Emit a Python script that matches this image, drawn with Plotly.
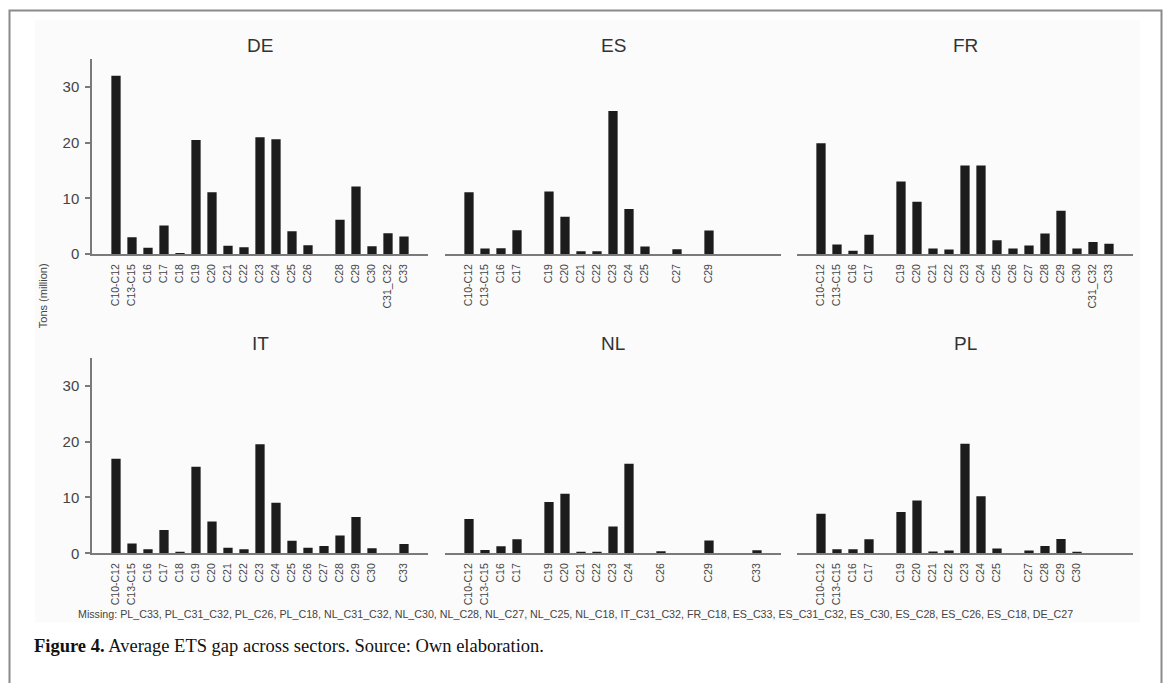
import plotly.graph_objects as go

categories = ["C10-C12", "C13-C15", "C16", "C17", "C18", "C19", "C20", "C21", "C22",
              "C23", "C24", "C25", "C26", "C27", "C28", "C29", "C30", "C31_C32", "C33"]
countries = ["DE", "ES", "FR", "IT", "NL", "PL"]
N = None
de = [32.0, 3.05, 1.14, 5.15, 0.2, 20.5, 11.1, 1.5, 1.26, 21.0, 20.6, 4.13, 1.6, N, 6.17, 12.16, 1.44, 3.77, 3.17]
es = [11.1, 1.0, 1.08, 4.3, N, 11.26, 6.7, 0.54, 0.54, 25.7, 8.1, 1.38, N, 0.9, N, 4.25, N, N, N]
fr = [19.9, 1.74, 0.6, 3.5, N, 13.05, 9.4, 1.0, 0.84, 15.9, 15.9, 2.5, 1.0, 1.55, 3.7, 7.8, 1.0, 2.2, 1.85]
it = [16.9, 1.73, 0.7, 4.17, 0.24, 15.5, 5.7, 1.0, 0.7, 19.5, 9.05, 2.26, 1.0, 1.3, 3.2, 6.5, 0.9, N, 1.67]
nl = [6.13, 0.6, 1.25, 2.5, N, 9.17, 10.65, 0.24, 0.24, 4.8, 16.0, N, 0.36, N, N, 2.3, N, N, 0.54]
pl = [7.08, 0.7, 0.7, 2.5, N, 7.4, 9.46, 0.3, 0.48, 19.6, 10.2, 0.83, N, 0.48, 1.3, 2.56, 0.24, N, N]
y_ticks = [0, 10, 20, 30]

series = [de, es, fr, it, nl, pl]

# page body adds an 8px margin; the captured picture is slightly squeezed vertically (K)
OFF = 8
K = 0.988
W, H = 1171 - 2 * OFF, 683
def fx(px):
    return (px - OFF) / W
def fy(py):
    return 1 - (py / K - OFF) / H

col_px = [(92, 428), (445, 781), (797, 1133)]
row_px = [(59, 254), (357.5, 553)]

SANS = "Liberation Sans, Arial, sans-serif"
fig = go.Figure()
layout = dict(
    width=W, height=H, margin=dict(l=0, r=0, t=0, b=0),
    paper_bgcolor="white", plot_bgcolor="rgba(0,0,0,0)",
    showlegend=False,
    font=dict(family=SANS, color="#444"),
)
annotations = []
for i, (country, vals) in enumerate(zip(countries, series)):
    r, c = divmod(i, 3)
    idx = i + 1
    xa = "x" if idx == 1 else f"x{idx}"
    ya = "y" if idx == 1 else f"y{idx}"
    xs = [cat for cat, v in zip(categories, vals) if v is not None]
    ys = [v for v in vals if v is not None]
    fig.add_trace(go.Bar(x=xs, y=ys, xaxis=xa, yaxis=ya,
                         marker=dict(color="#1c1c1c", line=dict(width=0)), width=0.58))
    x0, x1 = col_px[c]
    y0, y1 = row_px[r]
    layout["xaxis" if idx == 1 else f"xaxis{idx}"] = dict(
        domain=[fx(x0), fx(x1)], anchor=ya, type="category",
        categoryorder="array", categoryarray=categories,
        range=[-1.5, len(categories) + 0.5],
        tickmode="array", tickvals=xs, ticktext=xs, tickangle=-90,
        tickfont=dict(size=10.5, color="#444", family=SANS),
        ticklabelstandoff=4,
        showline=True, linecolor="#7a7a7a", linewidth=1.5,
        ticks="", showgrid=False, zeroline=False, fixedrange=True,
    )
    layout["yaxis" if idx == 1 else f"yaxis{idx}"] = dict(
        domain=[fy(y1), fy(y0)], anchor=xa, range=[0, 35],
        tickmode="array", tickvals=y_ticks, ticktext=[str(t) for t in y_ticks],
        tickfont=dict(size=15, color="#444", family=SANS),
        showline=(c == 0), linecolor="#7a7a7a", linewidth=1.5,
        ticks="outside" if c == 0 else "", ticklen=5, tickcolor="#7a7a7a", tickwidth=1.5,
        ticklabelstandoff=3,
        showticklabels=(c == 0), showgrid=False, zeroline=False, fixedrange=True,
    )
    annotations.append(dict(text=country, x=fx((x0 + x1) / 2), y=fy(y0 - 14), xref="paper", yref="paper",
                            showarrow=False, xanchor="center", yanchor="middle",
                            font=dict(size=19, color="#333", family=SANS)))

missing = [f"{country}_{cat}" for country, vals in reversed(list(zip(countries, series)))
           for cat, v in reversed(list(zip(categories, vals))) if v is None]
annotations.append(dict(text="Missing: " + ", ".join(missing), x=fx(575), y=fy(614), xref="paper", yref="paper",
                        showarrow=False, xanchor="center", yanchor="middle",
                        font=dict(size=10.7, color="#444", family=SANS)))
annotations.append(dict(text="Tons (million)", x=fx(43), y=fy(296), xref="paper", yref="paper",
                        showarrow=False, textangle=-90, xanchor="center", yanchor="middle",
                        font=dict(size=11, color="#444", family=SANS)))
annotations.append(dict(text="<b>Figure 4.</b> Average ETS gap across sectors. Source: Own elaboration.",
                        x=fx(32), y=fy(646), xref="paper", yref="paper",
                        showarrow=False, xanchor="left", yanchor="middle",
                        font=dict(size=18.5, color="#111", family="Liberation Serif, Times New Roman, serif")))
layout["annotations"] = annotations
layout["shapes"] = [
    dict(type="rect", xref="paper", yref="paper", x0=fx(35), x1=fx(1140), y0=fy(622), y1=fy(20),
         fillcolor="#fbfbfb", line=dict(width=0), layer="below"),
    dict(type="path", xref="paper", yref="paper",
         path=f"M {fx(9.5)} 0 L {fx(9.5)} {fy(10.5)} L {fx(1161.5)} {fy(10.5)} L {fx(1161.5)} 0",
         line=dict(color="#8a8a8a", width=2)),
]
fig.update_layout(**layout)
fig.write_html("out.html")
